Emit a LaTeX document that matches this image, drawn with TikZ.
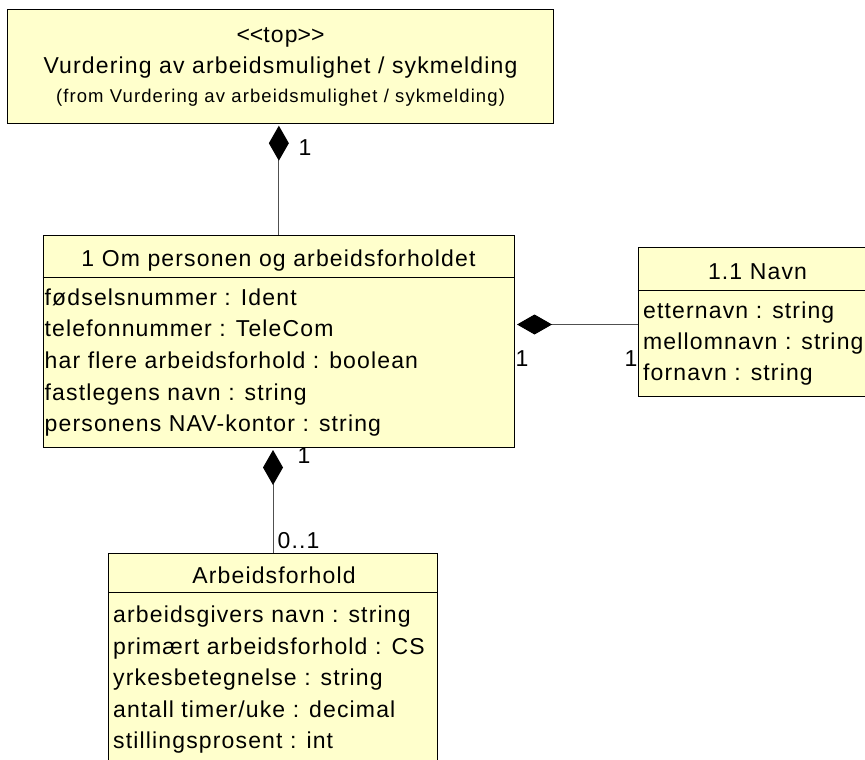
\documentclass[tikz,border=0pt]{standalone}
\usepackage{fontspec}
\setmainfont{Liberation Sans}[LetterSpace=5]
\usetikzlibrary{arrows.meta,calc}
\definecolor{umlfill}{RGB}{255,255,204}
\definecolor{linegray}{RGB}{80,80,80}
\begin{document}
\begin{tikzpicture}[x=1pt,y=-1pt,
  box/.style={draw=black, line width=1pt, fill=umlfill, anchor=north west, inner sep=0pt},
  sepline/.style={draw=black, line width=1pt},
  txt/.style={inner sep=0pt, text height=16.5pt, text depth=0pt, font=\fontsize{23}{27}\selectfont},
  smalltxt/.style={inner sep=0pt, text height=13.2pt, text depth=0pt, font=\fontsize{18.5}{22}\selectfont\addfontfeature{LetterSpace=6}},
  attr/.style={txt, anchor=west},
  conn/.style={draw=linegray, line width=1pt},
  comp/.style={conn, {Diamond[length=35pt,width=20pt,color=black,fill=black]}-, shorten <=2pt}
]
\useasboundingbox (0,0) rectangle (865,760);
\clip (0,0) rectangle (865,760);

% boxes
\node[box, minimum width=545.4pt, minimum height=113.4pt] (top) at (7.3,9.3) {};
\node[box, minimum width=471.3pt, minimum height=212pt] (main) at (42.7,235) {};
\node[box, minimum width=239.3pt, minimum height=149pt] (navn) at (637.7,247) {};
\node[box, minimum width=329pt, minimum height=240pt] (arb) at (108,552.7) {};

% compartment separators
\draw[sepline] (42.7,277) -- (514,277);
\draw[sepline] (637.7,290.7) -- (877,290.7);
\draw[sepline] (108,592.7) -- (437,592.7);

% top box texts
\node[txt] (tstereo) at (280.5,34) {\mbox{<}\mbox{<}top\mbox{>}\mbox{>}};
\node[txt] (tname) at (280.5,65.5) {Vurdering av arbeidsmulighet / sykmelding};
\node[smalltxt] (tfrom) at (280.5,95.5) {(from Vurdering av arbeidsmulighet / sykmelding)};

% main box texts
\node[txt] (mname) at (278.5,258) {1 Om personen og arbeidsforholdet};
\node[attr] (ma1) at (44.5,297) {fødselsnummer : Ident};
\node[attr] (ma2) at (44.5,328.7) {telefonnummer : TeleCom};
\node[attr] (ma3) at (44.5,360.3) {har flere arbeidsforhold : boolean};
\node[attr] (ma4) at (44.5,392) {fastlegens navn : string};
\node[attr] (ma5) at (44.5,423.7) {personens NAV-kontor : string};

% navn box texts
\node[txt] (nname) at (757.5,271) {1.1 Navn};
\node[attr] (na1) at (643,310.5) {etternavn : string};
\node[attr] (na2) at (643,341.3) {mellomnavn : string};
\node[attr] (na3) at (643,372) {fornavn : string};

% arbeidsforhold box texts
\node[txt] (aname) at (274,575) {Arbeidsforhold};
\node[attr] (aa1) at (113,614.7) {arbeidsgivers navn : string};
\node[attr] (aa2) at (113,646) {primært arbeidsforhold : CS};
\node[attr] (aa3) at (113,677.5) {yrkesbetegnelse : string};
\node[attr] (aa4) at (113,709) {antall timer/uke : decimal};
\node[attr] (aa5) at (113,740) {stillingsprosent : int};

% connectors
\draw[comp] (main.north |- top.south) -- (main.north);
\draw[comp] ($(main.east |- navn.west)+(0,2.5)$) -- ($(navn.west)+(0,2.5)$);
\draw[comp] (arb.north |- main.south) -- (arb.north);

% multiplicities
\node[txt] (m1) at (305,147) {1};
\node[txt] (m2) at (522,358) {1};
\node[txt] (m3) at (631,358) {1};
\node[txt] (m4) at (304,455) {1};
\node[txt] (m5) at (298.5,540) {0..1};
\end{tikzpicture}
\end{document}
